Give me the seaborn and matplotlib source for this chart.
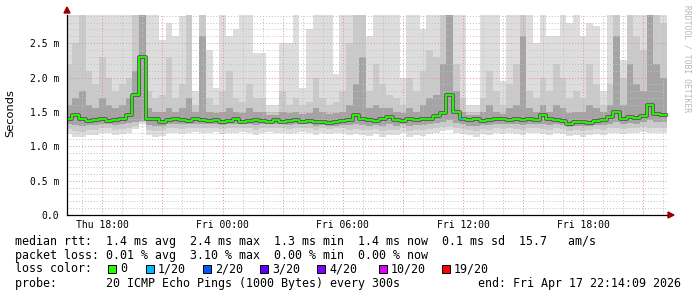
import numpy as np
import matplotlib
matplotlib.use("Agg")
import matplotlib.pyplot as plt
import seaborn as sns
from matplotlib.patches import Rectangle, Polygon
from matplotlib.ticker import MultipleLocator, FixedLocator, FixedFormatter

sns.set_theme(style="white")
plt.rcParams['font.family'] = ['DejaVu Sans Mono', 'DejaVu Sans']

# ---------------- data (hours since Thu 00:00, values in ms) ----------------
view_start = 16 + 14 / 60 + 9 / 3600      # Thu 16:14:09
view_end = 46 + 14 / 60 + 9 / 3600        # Fri 22:14:09
bin_start = 16 + 10 / 60                  # first 20-minute bin starts Thu 16:10
bin_hours = 1 / 3

median_ms = [1.40, 1.46, 1.39, 1.37, 1.38, 1.40, 1.37, 1.38, 1.40, 1.45,
             1.75, 2.30, 1.40, 1.39, 1.36, 1.38, 1.39, 1.38, 1.37, 1.39,
             1.38, 1.37, 1.38, 1.36, 1.37, 1.39, 1.36, 1.37, 1.38, 1.37,
             1.36, 1.38, 1.36, 1.37, 1.38, 1.36, 1.37, 1.35, 1.36, 1.34,
             1.35, 1.37, 1.38, 1.46, 1.39, 1.38, 1.37, 1.39, 1.42, 1.38,
             1.37, 1.39, 1.38, 1.39, 1.40, 1.44, 1.48, 1.74, 1.50, 1.39,
             1.38, 1.39, 1.37, 1.38, 1.40, 1.39, 1.38, 1.40, 1.38, 1.39,
             1.38, 1.45, 1.39, 1.38, 1.37, 1.33, 1.35, 1.36, 1.34, 1.37,
             1.38, 1.42, 1.50, 1.40, 1.43, 1.41, 1.44, 1.60, 1.47, 1.46]

smoke_max = [3.0, 3.0, 3.0, 3.0, 3.0, 3.0, 3.0, 3.0, 3.0, 3.0,
             3.0, 3.0, 3.0, 3.0, 2.55, 2.8, 2.6, 2.9, 3.0, 1.8,
             3.0, 2.4, 1.85, 3.0, 2.6, 2.7, 3.0, 3.0, 2.35, 2.35,
             1.6, 1.6, 2.5, 2.5, 3.0, 1.85, 2.7, 3.0, 3.0, 3.0,
             2.05, 3.0, 3.0, 3.0, 3.0, 2.6, 3.0, 3.0, 3.0, 3.0,
             2.0, 3.0, 3.0, 2.7, 3.0, 3.0, 3.0, 3.0, 3.0, 3.0,
             1.6, 1.6, 3.0, 3.0, 3.0, 1.95, 3.0, 3.0, 3.0, 3.0,
             2.5, 3.0, 2.6, 2.6, 3.0, 2.8, 3.0, 2.6, 2.8, 2.75,
             1.8, 3.0, 3.0, 2.25, 3.0, 3.0, 3.0, 3.0, 3.0, 3.0]

smoke_hi2 = [2.2, 2.5, 3.0, 2.1, 1.9, 2.3, 2.0, 1.8, 1.9, 2.0,
             3.0, 3.0, 1.8, 1.7, 1.75, 2.3, 1.7, 1.9, 3.0, 1.6,
             3.0, 1.7, 1.6, 1.8, 2.1, 1.7, 1.65, 1.9, 1.7, 1.7,
             1.5, 1.5, 1.8, 1.6, 1.7, 1.6, 1.65, 2.0, 1.7, 1.6,
             1.65, 1.8, 2.5, 3.0, 3.0, 1.8, 2.2, 1.9, 1.75, 1.7,
             1.6, 2.0, 1.8, 2.1, 2.4, 2.3, 3.0, 3.0, 2.2, 1.7,
             1.5, 1.5, 1.7, 2.1, 1.8, 1.6, 1.9, 2.2, 3.0, 1.8,
             1.7, 2.0, 1.8, 2.2, 2.0, 1.7, 1.8, 1.7, 2.2, 1.9,
             1.6, 1.9, 3.0, 2.0, 3.0, 2.6, 2.4, 3.0, 3.0, 2.8]

smoke_hi3 = [1.6, 1.7, 1.8, 1.6, 1.55, 1.7, 1.6, 1.55, 1.6, 1.7,
             2.1, 3.0, 1.55, 1.5, 1.5, 1.55, 1.5, 1.55, 1.7, 1.5,
             2.6, 1.5, 1.48, 1.5, 1.55, 1.5, 1.48, 1.55, 1.5, 1.5,
             1.45, 1.45, 1.5, 1.48, 1.5, 1.47, 1.48, 1.55, 1.5, 1.47,
             1.48, 1.5, 1.6, 1.9, 2.3, 1.55, 1.6, 1.55, 1.55, 1.5,
             1.48, 1.55, 1.5, 1.6, 1.7, 1.75, 2.2, 3.0, 1.8, 1.5,
             1.45, 1.45, 1.5, 1.6, 1.5, 1.47, 1.55, 1.6, 2.6, 1.55,
             1.5, 1.6, 1.5, 1.6, 1.55, 1.48, 1.5, 1.5, 1.6, 1.55,
             1.5, 1.6, 2.6, 1.6, 2.2, 1.9, 1.8, 3.0, 2.2, 2.0]

smoke_lo3 = [1.32, 1.31, 1.30, 1.31, 1.31, 1.33, 1.32, 1.31, 1.32, 1.34,
             1.36, 1.37, 1.31, 1.30, 1.30, 1.32, 1.33, 1.32, 1.32, 1.33,
             1.32, 1.32, 1.33, 1.31, 1.32, 1.33, 1.32, 1.32, 1.31, 1.32,
             1.32, 1.32, 1.32, 1.31, 1.32, 1.32, 1.32, 1.30, 1.31, 1.30,
             1.30, 1.31, 1.31, 1.33, 1.31, 1.30, 1.31, 1.30, 1.32, 1.30,
             1.32, 1.30, 1.31, 1.31, 1.32, 1.34, 1.36, 1.38, 1.34, 1.32,
             1.30, 1.30, 1.31, 1.31, 1.33, 1.32, 1.33, 1.32, 1.31, 1.33,
             1.33, 1.33, 1.31, 1.32, 1.31, 1.28, 1.30, 1.29, 1.29, 1.31,
             1.31, 1.33, 1.35, 1.32, 1.34, 1.33, 1.35, 1.38, 1.35, 1.35]

smoke_lo2 = [1.25, 1.22, 1.21, 1.24, 1.24, 1.26, 1.26, 1.24, 1.25, 1.27,
             1.30, 1.35, 1.24, 1.22, 1.23, 1.26, 1.27, 1.25, 1.26, 1.27,
             1.26, 1.27, 1.27, 1.25, 1.26, 1.26, 1.27, 1.26, 1.24, 1.26,
             1.27, 1.26, 1.27, 1.25, 1.26, 1.27, 1.26, 1.24, 1.26, 1.25,
             1.26, 1.26, 1.24, 1.25, 1.23, 1.23, 1.25, 1.22, 1.24, 1.23,
             1.26, 1.22, 1.24, 1.23, 1.25, 1.27, 1.28, 1.30, 1.27, 1.25,
             1.23, 1.22, 1.25, 1.24, 1.26, 1.25, 1.27, 1.25, 1.24, 1.26,
             1.27, 1.25, 1.23, 1.26, 1.25, 1.22, 1.24, 1.22, 1.23, 1.25,
             1.24, 1.26, 1.27, 1.25, 1.27, 1.26, 1.28, 1.27, 1.26, 1.27]

smoke_min = [1.18, 1.14, 1.13, 1.17, 1.16, 1.19, 1.20, 1.17, 1.18, 1.20,
             1.25, 1.33, 1.17, 1.14, 1.15, 1.19, 1.20, 1.18, 1.20, 1.21,
             1.19, 1.20, 1.21, 1.18, 1.20, 1.19, 1.21, 1.20, 1.17, 1.20,
             1.21, 1.19, 1.20, 1.18, 1.20, 1.21, 1.19, 1.17, 1.20, 1.18,
             1.20, 1.19, 1.17, 1.18, 1.16, 1.15, 1.18, 1.14, 1.17, 1.16,
             1.19, 1.14, 1.17, 1.15, 1.18, 1.20, 1.22, 1.24, 1.20, 1.18,
             1.16, 1.14, 1.18, 1.17, 1.19, 1.18, 1.20, 1.18, 1.17, 1.19,
             1.20, 1.18, 1.16, 1.19, 1.18, 1.15, 1.17, 1.14, 1.16, 1.18,
             1.17, 1.19, 1.20, 1.18, 1.20, 1.19, 1.21, 1.20, 1.19, 1.20]

loss_bins = [59]          # bins with packet loss
loss_counts = [1]         # lost pings (of 20) in those bins

loss_levels = [0, 1, 2, 3, 4, 10, 19]
loss_labels = ["0", "1/20", "2/20", "3/20", "4/20", "10/20", "19/20"]
loss_colors = ["#26ff00", "#00b8ff", "#0059ff", "#5e00ff", "#7e00ff", "#dd00ff", "#ff0000"]

y_ticks = [0.0, 0.5, 1.0, 1.5, 2.0, 2.5]
y_tick_labels = ["0.0", "0.5 m", "1.0 m", "1.5 m", "2.0 m", "2.5 m"]
x_tick_hours = [18, 24, 30, 36, 42]
x_tick_labels = ["Thu 18:00", "Fri 00:00", "Fri 06:00", "Fri 12:00", "Fri 18:00"]

legend_rows = [
    "median rtt:  1.4 ms avg  2.4 ms max  1.3 ms min  1.4 ms now  0.1 ms sd  15.7   am/s",
    "packet loss: 0.01 % avg  3.10 % max  0.00 % min  0.00 % now",
    "loss color:",
    "probe:       20 ICMP Echo Pings (1000 Bytes) every 300s",
]
end_label = "end: Fri Apr 17 22:14:09 2026"

# ---------------- figure ----------------
W, H = 697, 297
fig = plt.figure(figsize=(W / 100, H / 100), dpi=100)
fig.patch.set_facecolor("white")
ax = fig.add_axes([67 / W, (H - 215) / H, 601 / W, 200 / H])
ax.set_facecolor("white")

n = len(median_ms)
edges = bin_start + bin_hours * np.arange(n + 1)


def ext(v):
    v = np.asarray(v, dtype=float)
    return np.append(v, v[-1])


for lo, hi, col in [(smoke_min, smoke_max, "#dddddd"),
                    (smoke_lo2, smoke_hi2, "#cacaca"),
                    (smoke_lo3, smoke_hi3, "#a4a4a4")]:
    ax.fill_between(edges, ext(lo), ext(hi), step="post", color=col,
                    linewidth=0, zorder=1)

# dark core around the median, then the median itself
sns.lineplot(x=edges, y=ext(median_ms), ax=ax, drawstyle="steps-post",
             color="#505050", linewidth=2.6, zorder=3, estimator=None, sort=False)
sns.lineplot(x=edges, y=ext(median_ms), ax=ax, drawstyle="steps-post",
             color=loss_colors[0], linewidth=1.3, zorder=4, estimator=None, sort=False)
for b, c in zip(loss_bins, loss_counts):
    lvl = max(i for i, L in enumerate(loss_levels) if L <= c)
    ax.hlines(median_ms[b], edges[b], edges[b] + bin_hours / 2, color=loss_colors[lvl],
              linewidth=1.6, zorder=5)

ax.set_xlim(view_start, view_end)
ax.set_ylim(0, 2.91)

# ticks / grid
major_x = list(range(18, 46, 3))
ax.xaxis.set_major_locator(FixedLocator(major_x))
lab_map = dict(zip(x_tick_hours, x_tick_labels))
ax.xaxis.set_major_formatter(FixedFormatter([lab_map.get(h, "") for h in major_x]))
ax.xaxis.set_minor_locator(MultipleLocator(1))
ax.yaxis.set_major_locator(FixedLocator(y_ticks))
ax.yaxis.set_major_formatter(FixedFormatter(y_tick_labels))
ax.yaxis.set_minor_locator(MultipleLocator(0.1))

ax.set_axisbelow(False)
ax.grid(which="minor", color="#c0c0c0", linestyle=(0, (1, 2)), linewidth=0.7)
ax.grid(which="major", color="#e09090", linestyle=(0, (1, 2)), linewidth=0.7)
ax.tick_params(which="both", length=0)
ax.tick_params(axis="x", pad=3.5, labelsize=7, colors="black")
ax.tick_params(axis="y", pad=5.5, labelsize=7, colors="black")

for s in ["top", "right"]:
    ax.spines[s].set_visible(False)
for s in ["left", "bottom"]:
    ax.spines[s].set_color("black")
    ax.spines[s].set_linewidth(0.9)
    ax.spines[s].set_zorder(6)

# arrows
def px(x, y):
    return (x / W, (H - y) / H)

fig.patches.append(Polygon([px(64, 13), px(70, 13), px(67, 7)], closed=True,
                           transform=fig.transFigure, color="#9a0000", zorder=10))
fig.patches.append(Polygon([px(668, 212), px(668, 218), px(674, 215)], closed=True,
                           transform=fig.transFigure, color="#9a0000", zorder=10))

# axis title + watermark
fig.text(10 / W, 1 - 113 / H, "Seconds", rotation=90, ha="center", va="center",
         fontsize=8.2, family=["DejaVu Sans"], color="black")
fig.text(687 / W, 1 - 5 / H, "RRDTOOL / TOBI OETIKER", rotation=270,
         ha="center", va="top", fontsize=5.8, color="#b8b8b8")

# legend rows
row_y = [241, 255.5, 269, 283.5]
for txt, yy in zip(legend_rows, row_y):
    fig.text(15 / W, 1 - yy / H, txt, ha="left", va="center", fontsize=8.4, color="black")
fig.text(478 / W, 1 - row_y[3] / H, end_label, ha="left", va="center",
         fontsize=8.4, color="black")

box_x = [108, 146, 203, 260, 317, 379, 442]
for bx, lab, col in zip(box_x, loss_labels, loss_colors):
    x0, y0 = px(bx, row_y[2] + 4)
    fig.patches.append(Rectangle((x0, y0), 8 / W, 8 / H, transform=fig.transFigure,
                                 facecolor=col, edgecolor="black", linewidth=0.7))
    fig.text((bx + 12) / W, 1 - row_y[2] / H, lab, ha="left", va="center",
             fontsize=8.4, color="black")

fig.savefig("out.png", dpi=100, facecolor="white")
